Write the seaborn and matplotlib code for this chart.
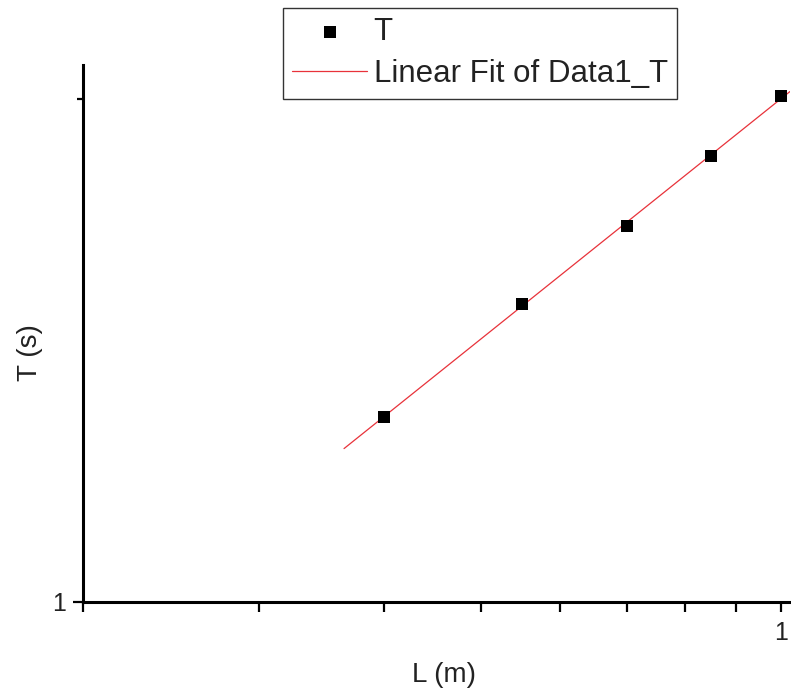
import numpy as np
import pandas as pd
import seaborn as sns
import matplotlib.pyplot as plt
from matplotlib.ticker import FixedLocator, NullFormatter, FixedFormatter

# measured pendulum data (length in m, period in s)
length_m = [0.40, 0.55, 0.70, 0.85, 1.00]
period_s = [1.291, 1.508, 1.679, 1.849, 2.008]
fit_range = [0.365, 1.02]

x_ticks = [0.2, 0.3, 0.4, 0.5, 0.6, 0.7, 0.8, 0.9, 1.0]

sns.set_theme(style="ticks")
plt.rcParams['font.family'] = ['Liberation Sans', 'DejaVu Sans']

df = pd.DataFrame({"L": length_m, "T": period_s})

# linear fit of log(T) vs log(L), drawn as a straight line on log-log axes
slope, intercept = np.polyfit(np.log10(df["L"]), np.log10(df["T"]), 1)
fit_x = np.array(fit_range)
fit_df = pd.DataFrame({"L": fit_x, "T": 10 ** (intercept + slope * np.log10(fit_x))})

fig = plt.figure(figsize=(7.91, 6.92), dpi=100)
ax = fig.add_axes([0.1049, 0.1301, 0.8938, 0.776])
ax.set_xscale("log")
ax.set_yscale("log")

sns.lineplot(data=fit_df, x="L", y="T", ax=ax, color="#e8323a", linewidth=0.9,
             label="Linear Fit of Data1_T")
sns.scatterplot(data=df, x="L", y="T", ax=ax, color="black", marker="s", s=70,
                edgecolor="black", linewidth=0, label="T", zorder=3)

ax.set_xlim(0.2, 1.02)
ax.set_ylim(1.0, 2.096)

ax.xaxis.set_major_locator(FixedLocator(x_ticks))
ax.xaxis.set_major_formatter(FixedFormatter(["" if t != 1.0 else "1" for t in x_ticks]))
ax.xaxis.set_minor_locator(FixedLocator([]))
ax.yaxis.set_major_locator(FixedLocator([1.0]))
ax.yaxis.set_major_formatter(FixedFormatter(["1"]))
ax.yaxis.set_minor_locator(FixedLocator([2.0]))
ax.yaxis.set_minor_formatter(NullFormatter())

ax.tick_params(axis="x", which="major", direction="out", length=7, width=1.6,
               labelsize=18, pad=7, color="black", labelcolor="#222222")
ax.tick_params(axis="y", which="major", direction="out", length=7, width=1.6,
               labelsize=18, pad=5, color="black", labelcolor="#222222")
ax.tick_params(axis="y", which="minor", direction="out", length=4, width=1.6, color="black")

for side in ["left", "bottom"]:
    ax.spines[side].set_linewidth(2.2)
    ax.spines[side].set_color("black")
sns.despine(ax=ax)

ax.set_xlabel("L (m)", fontsize=20, color="#222222")
ax.set_ylabel("T (s)", fontsize=20, color="#222222")
ax.xaxis.set_label_coords(0.511, -0.112)
ax.yaxis.set_label_coords(-0.057, 0.464)

# legend: marker row first, then the fit line
handles, labels = ax.get_legend_handles_labels()
order = [labels.index("T"), labels.index("Linear Fit of Data1_T")]
leg = ax.legend([handles[i] for i in order], [labels[i] for i in order],
                loc="upper left", bbox_to_anchor=(283 / 791, 1 - 8 / 692),
                bbox_transform=fig.transFigure, borderaxespad=0,
                fontsize=22.5, frameon=True, fancybox=False, framealpha=1,
                handlelength=2.4, handletextpad=0.2, labelspacing=0.38,
                borderpad=0.3, markerscale=1.0)
leg.get_frame().set_edgecolor("#333333")
leg.get_frame().set_linewidth(1.0)
for text in leg.get_texts():
    text.set_color("#222222")

plt.savefig("out.png", dpi=100)
